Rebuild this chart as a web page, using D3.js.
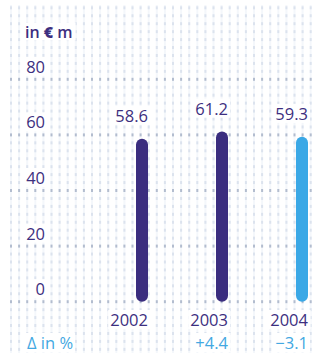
<!DOCTYPE html>
<html><head><meta charset="utf-8">
<script src="https://cdn.jsdelivr.net/npm/d3@7"></script>
<style>html,body{margin:0;padding:0;background:#fff;}svg{display:block;}</style>
</head><body>
<svg id="c" width="316" height="353"></svg>
<script>
const years = ["2002", "2003", "2004"];
const values = [58.6, 61.2, 59.3];
const valueLabels = ["58.6", "61.2", "59.3"];
const deltas = ["", "+4.4", "\u22123.1"];
const barColors = ["#3a2d7f", "#3a2d7f", "#3aa8e6"];
const yTicks = [0, 20, 40, 60, 80];
const unitLabel = "in \u20ac m";
const deltaTitle = "\u0394 in %";

const svg = d3.select("#c");
const W = 316, H = 353;
const y = d3.scaleLinear().domain([0, 80]).range([301.7, 79.3]);
const x = d3.scalePoint().domain(years).range([142, 302]);
const font = "'Open Sans', sans-serif";
const purple = "#3d2f80", blue = "#43a8e2";

// dotted background
const bg = svg.append("g");
const step = (y(0) - y(20)) / 7;
for (let xx = 10; xx < W; xx += 8.1) {
  bg.append("rect").attr("x", xx).attr("y", 5).attr("width", 2).attr("height", H - 5)
    .attr("fill", "#f0f3f9").attr("opacity", 0.7);
}
for (let k = -6; k <= 38; k++) {
  const yy = y(0) - k * step;
  if (yy < 5 || yy > H) continue;
  const grid = k >= 0 && k % 7 === 0 && k <= 28;
  for (let xx = 10; xx < W; xx += 8.1) {
    bg.append("rect").attr("x", xx).attr("y", yy - 1.5).attr("width", 2).attr("height", 3)
      .attr("fill", grid ? "#b3bdcf" : "#dce3ee");
  }
}

function labelBox(t, pad) {
  const b = t.node().getBBox();
  svg.insert("rect", () => t.node()).attr("x", b.x - pad).attr("y", b.y + 2)
    .attr("width", b.width + 2 * pad).attr("height", b.height - 4).attr("fill", "#fff");
}

// y tick labels
yTicks.forEach(v => {
  const t = svg.append("text").attr("x", 45).attr("y", y(v) - 6.5)
    .attr("text-anchor", "end").attr("font-family", font).attr("font-size", 16.5)
    .attr("fill", purple).text(v);
  labelBox(t, 2);
});

// unit label
const u = svg.append("text").attr("x", 25).attr("y", 37.5).attr("font-family", font)
  .attr("font-size", 16).attr("font-weight", 600).attr("fill", purple);
u.append("tspan").text("in ");
u.append("tspan").attr("font-weight", 800).text("\u20ac");
u.append("tspan").text(" m");
labelBox(u, 3);

// bars
svg.selectAll("rect.bar").data(values).join("rect").attr("class", "bar")
  .attr("x", (d, i) => x(years[i]) - 6).attr("width", 12)
  .attr("y", d => y(d)).attr("height", d => y(0) - y(d))
  .attr("rx", 6).attr("fill", (d, i) => barColors[i]);

// value labels
values.forEach((v, i) => {
  const t = svg.append("text").attr("x", x(years[i]) + 6).attr("y", y(v) - 17)
    .attr("text-anchor", "end").attr("font-family", font).attr("font-size", 16.5)
    .attr("fill", purple).text(valueLabels[i]);
  labelBox(t, 2);
});

// year labels
years.forEach((yr, i) => {
  const t = svg.append("text").attr("x", x(yr) + 6).attr("y", 326)
    .attr("text-anchor", "end").attr("font-family", font).attr("font-size", 16.5)
    .attr("fill", purple).text(yr);
  labelBox(t, 2);
  if (deltas[i]) {
    const d = svg.append("text").attr("x", x(yr) + 6).attr("y", 349)
      .attr("text-anchor", "end").attr("font-family", font).attr("font-size", 16.5)
      .attr("fill", blue).text(deltas[i]);
    labelBox(d, 2);
  }
});

const dt = svg.append("text").attr("x", 27).attr("y", 349).attr("font-family", font)
  .attr("font-size", 16.5).attr("fill", blue).text(deltaTitle);
labelBox(dt, 2);
</script>
</body></html>
